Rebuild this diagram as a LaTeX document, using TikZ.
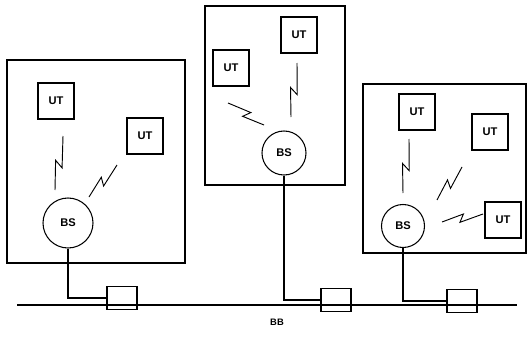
\documentclass[tikz,border=0pt]{standalone}
\usepackage{fontspec}
\setmainfont{Liberation Sans}
\usetikzlibrary{calc}
\newcommand{\radiobolt}[2]{\draw[bolt] (#1) -- ($(#1)!0.58!(#2)!3.2pt!90:(#2)$) -- ($(#1)!0.46!(#2)!-3.2pt!90:(#2)$) -- (#2);}

\begin{document}
\begin{tikzpicture}[x=0.03cm, y=-0.03cm, line width=0.9pt,
  font=\fontsize{9.5}{10}\selectfont\bfseries,
  ut/.style={draw, minimum size=1.08cm, inner sep=0pt},
  bs/.style={draw, circle, inner sep=0pt},
  tap/.style={draw, minimum width=0.9cm, minimum height=0.68cm, inner sep=0pt},
  bolt/.style={line width=0.8pt},
  bus/.style={line width=2pt}]
\useasboundingbox (0,0) rectangle (528,337);
% cells
\draw (7,60) rectangle (185,263);
\draw (205,6) rectangle (345,185);
\draw (363,84) rectangle (526,253);
% terminals and base stations
\node[ut] (utA1) at (56,101) {UT};
\node[ut] (utA2) at (145,136) {UT};
\node[bs, minimum size=1.5cm] (bsA) at (68,223) {BS};
\node[ut] (utB1) at (231,68) {UT};
\node[ut] (utB2) at (299,35) {UT};
\node[bs, minimum size=1.32cm] (bsB) at (284,153) {BS};
\node[ut] (utC1) at (417,112) {UT};
\node[ut] (utC2) at (490,132) {UT};
\node[ut] (utC3) at (503,220) {UT};
\node[bs, minimum size=1.29cm] (bsC) at (403,226) {BS};
% radio links
\radiobolt{63,136}{55,190}
\radiobolt{117,165}{89,197}
\radiobolt{228,103}{264,125}
\radiobolt{297,63}{291,117}
\radiobolt{409,139}{403,193}
\radiobolt{462,167}{437,200}
\radiobolt{483,214}{442,222}
% backbone
\coordinate (busL) at (17,305);
\coordinate (busR) at (517,305);
\node[tap] (tapA) at (122,298) {};
\node[tap] (tapB) at (336,300) {};
\node[tap] (tapC) at (462,301) {};
\draw[bus] (busL) -- (busR);
\draw (bsA.south) |- (tapA.west);
\draw (bsB.south) |- (tapB.west);
\draw (bsC.south) |- (tapC.west);
\node[font=\fontsize{8}{9}\selectfont\bfseries] (bbl) at (277,322) {BB};
\end{tikzpicture}
\end{document}
